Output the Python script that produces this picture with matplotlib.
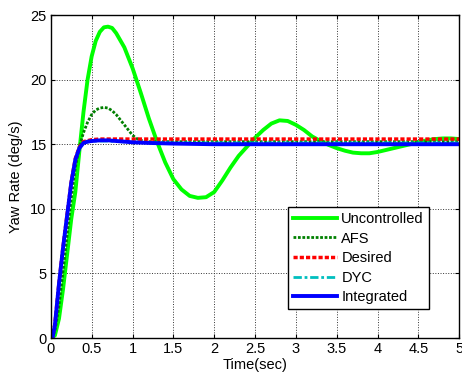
import matplotlib
matplotlib.use("Agg")
import matplotlib.pyplot as plt

# Values
t_unc = [0, 0.05, 0.1, 0.15, 0.2, 0.25, 0.3, 0.35, 0.4, 0.45, 0.5, 0.55, 0.6, 0.65, 0.7,
         0.75, 0.8, 0.9, 1.0, 1.1, 1.2, 1.3, 1.4, 1.5, 1.6, 1.7, 1.8, 1.9, 2.0, 2.1, 2.2,
         2.3, 2.4, 2.5, 2.6, 2.7, 2.8, 2.9, 3.0, 3.1, 3.2, 3.3, 3.4, 3.5, 3.6, 3.7, 3.8,
         3.9, 4.0, 4.1, 4.2, 4.3, 4.4, 4.5, 4.6, 4.7, 4.8, 4.9, 5.0]
uncontrolled = [0, 0.2, 1.5, 3.8, 6.5, 9.2, 11.3, 14.5, 17.5, 20.0, 21.8, 23.0, 23.7, 24.05,
                24.1, 24.0, 23.6, 22.5, 20.9, 19.0, 17.0, 15.2, 13.6, 12.3, 11.5, 11.0, 10.85,
                10.9, 11.3, 12.2, 13.2, 14.1, 14.8, 15.5, 16.1, 16.6, 16.85, 16.8, 16.5, 16.1,
                15.6, 15.25, 14.95, 14.7, 14.5, 14.35, 14.3, 14.3, 14.4, 14.55, 14.7, 14.85,
                15.0, 15.15, 15.3, 15.4, 15.45, 15.45, 15.4]

t_afs = [0, 0.05, 0.1, 0.15, 0.2, 0.25, 0.3, 0.35, 0.4, 0.45, 0.5, 0.55, 0.6, 0.65, 0.7,
         0.75, 0.8, 0.85, 0.9, 0.95, 1.0, 1.05, 1.1, 1.2, 5.0]
afs = [0, 0.5, 2.5, 5.2, 8.0, 10.8, 13.2, 14.8, 15.9, 16.7, 17.3, 17.65, 17.8, 17.85, 17.8,
       17.6, 17.3, 16.9, 16.5, 16.1, 15.7, 15.45, 15.3, 15.2, 15.2]

t_des = [0, 0.02, 0.05, 0.1, 0.15, 0.2, 0.25, 0.3, 0.35, 0.4, 0.5, 0.6, 5.0]
desired = [0, 0, 1.1, 4.3, 7.1, 9.6, 12.1, 13.9, 14.8, 15.2, 15.35, 15.4, 15.4]

t_dyc = [0, 0.02, 0.05, 0.1, 0.15, 0.2, 0.25, 0.3, 0.35, 0.4, 0.5, 0.7, 1.0, 1.5, 5.0]
dyc = [0, 0, 1.0, 4.2, 7.0, 9.5, 12.0, 13.8, 14.7, 15.1, 15.25, 15.25, 15.15, 15.1, 15.1]

t_int = [0, 0.02, 0.05, 0.1, 0.15, 0.2, 0.25, 0.3, 0.35, 0.4, 0.45, 0.5, 0.6, 0.7, 0.8,
         0.9, 1.0, 1.2, 1.5, 2.0, 5.0]
integrated = [0, 0, 1.0, 4.2, 7.0, 9.5, 12.0, 13.8, 14.7, 15.1, 15.2, 15.25, 15.3, 15.3,
              15.25, 15.2, 15.15, 15.1, 15.05, 15.0, 15.0]

x_ticks = [0, 0.5, 1, 1.5, 2, 2.5, 3, 3.5, 4, 4.5, 5]
x_tick_labels = ["0", "0.5", "1", "1.5", "2", "2.5", "3", "3.5", "4", "4.5", "5"]
y_ticks = [0, 5, 10, 15, 20, 25]

plt.rcParams['font.family'] = ['Liberation Sans', 'DejaVu Sans']

fig = plt.figure(figsize=(4.62, 3.76), dpi=100)
ax = fig.add_axes([0.110, 0.101, 0.884, 0.859])

ax.plot(t_unc, uncontrolled, color='#00ff00', lw=2.8, label='Uncontrolled')
ax.plot(t_afs, afs, color='#008000', lw=2, linestyle=(0, (1, 0.6)), label='AFS')
ax.plot(t_des, desired, color='#ff0000', lw=2.5, linestyle=(0, (1.2, 0.6)), label='Desired')
ax.plot(t_dyc, dyc, color='#00bfbf', lw=2, linestyle=(0, (3, 1, 1, 1)), label='DYC')
ax.plot(t_int, integrated, color='#0000ff', lw=2.8, label='Integrated')

ax.set_xlim(0, 5)
ax.set_ylim(0, 25)
ax.set_xticks(x_ticks)
ax.set_xticklabels(x_tick_labels)
ax.set_yticks(y_ticks)
ax.tick_params(direction='in', top=True, right=True, labelsize=10.5, length=3, width=0.8, pad=3)
ax.grid(True, color='#333333', linestyle=':', lw=0.7)
for sp in ax.spines.values():
    sp.set_linewidth(1.0)

ax.set_xlabel("Time(sec)", fontsize=10.5, labelpad=1)
ax.set_ylabel("Yaw Rate (deg/s)", fontsize=10.5, labelpad=5)

leg = ax.legend(loc='upper left', bbox_to_anchor=(0.581, 0.406), fontsize=10.5,
                fancybox=False, framealpha=1, edgecolor='black', borderpad=0.35,
                labelspacing=0.38, handlelength=3.0, handletextpad=0.3, borderaxespad=0)
leg.get_frame().set_linewidth(1.0)

fig.savefig("out.png", dpi=100)
